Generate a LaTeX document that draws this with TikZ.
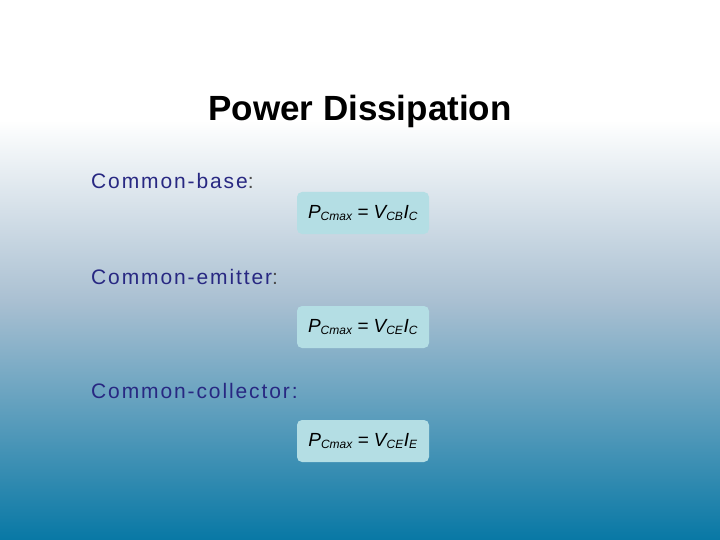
\documentclass[tikz,border=0pt]{standalone}
\usepackage{fontspec}
\setmainfont{Liberation Sans}
\definecolor{bgbot}{RGB}{8,120,165}
\definecolor{bgmid}{RGB}{170,192,210}
\definecolor{lbl}{RGB}{40,40,130}
\definecolor{boxc}{RGB}{180,222,228}
\begin{document}
\begin{tikzpicture}[x=1pt,y=1pt,
  lab/.style={anchor=west,text=lbl,font=\fontsize{21}{24}\selectfont\addfontfeatures{LetterSpace=9},inner sep=0},
  fbox/.style={fill=boxc,rounded corners=5pt,minimum width=132pt,minimum height=42pt,inner sep=0,font=\fontsize{19}{22}\selectfont\itshape}]
\useasboundingbox (0,0) rectangle (720,-540);
\shade[top color=white,bottom color=bgmid] (0,-120) rectangle (720,-300);
\shade[top color=bgmid,bottom color=bgbot] (0,-300) rectangle (720,-540);
\fill[white] (0,0) rectangle (720,-120);
\node[font=\fontsize{35}{40}\selectfont\bfseries] (title) at (360,-111) {Power Dissipation};
\node[lab] (l1) at (91,-181) {Common-base\textcolor{black!70}{:}};
\node[lab] (l2) at (91,-277) {Common-emitter\textcolor{black!70}{:}};
\node[lab] (l3) at (91,-391) {Common-collector:};
\newcommand{\eqs}{\hspace{5pt}\upshape{=}\hspace{5pt}\itshape}
\node[fbox] (f1) at (363,-213) {P\textsubscript{\fontsize{12}{12}\selectfont Cmax}\eqs V\textsubscript{\fontsize{12}{12}\selectfont CB}I\textsubscript{\fontsize{12}{12}\selectfont C}};
\node[fbox] (f2) at (363,-327) {P\textsubscript{\fontsize{12}{12}\selectfont Cmax}\eqs V\textsubscript{\fontsize{12}{12}\selectfont CE}I\textsubscript{\fontsize{12}{12}\selectfont C}};
\node[fbox] (f3) at (363,-441) {P\textsubscript{\fontsize{12}{12}\selectfont Cmax}\eqs V\textsubscript{\fontsize{12}{12}\selectfont CE}I\textsubscript{\fontsize{12}{12}\selectfont E}};
\end{tikzpicture}
\end{document}
